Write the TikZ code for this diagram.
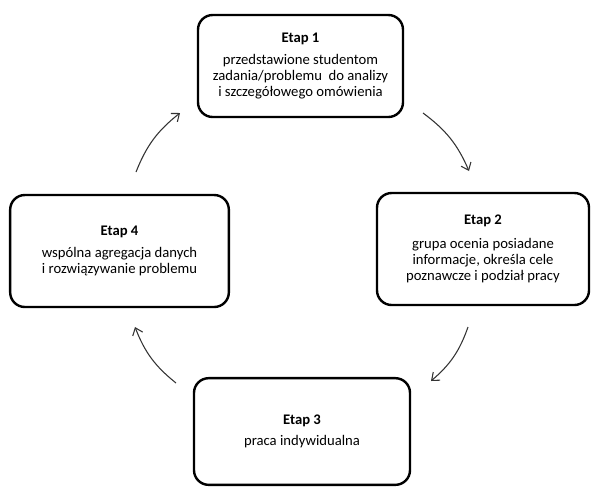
\documentclass[tikz,border=0pt]{standalone}
\usepackage{fontspec}
\setmainfont{Carlito}
\usetikzlibrary{arrows.meta}
\tikzstyle{etap} = [draw, rectangle, rounded corners=11pt, line width=1.8pt, align=center, inner sep=0pt, font=\fontsize{11}{12}\selectfont]
\tikzstyle{line} = [draw, black!80, line width=0.8pt, -{Straight Barb[length=5pt,width=8pt]}]

\begin{document}
\begin{tikzpicture}[x=0.75pt, y=-0.75pt]
	\useasboundingbox (0,0) rectangle (591,487);
	\node [etap, minimum width=153.75pt, minimum height=76.5pt] (etap1) at (300.5,66) {\textbf{Etap 1}\\[5pt] przedstawione studentom\\ zadania/problemu\ \ do analizy\\ i szczegółowego omówienia};
	\node [etap, minimum width=159pt, minimum height=84pt] (etap2) at (483,249) {\textbf{Etap 2}\\[6pt] grupa ocenia posiadane\\ informacje, określa cele\\ poznawcze i podział pracy};
	\node [etap, minimum width=162pt, minimum height=80pt] (etap3) at (302,431.5) {\textbf{Etap 3}\\[4pt] praca indywidualna};
	\node [etap, minimum width=164pt, minimum height=84pt] (etap4) at (119.5,251) {\textbf{Etap 4}\\[5pt] wspólna agregacja danych\\ i rozwiązywanie problemu};
	
	% punkty koncowe strzalek
	\coordinate (s12) at (423,113);
	\coordinate (e12) at (469,171);
	\coordinate (s23) at (468,327);
	\coordinate (e23) at (431,381);
	\coordinate (s34) at (176,383);
	\coordinate (e34) at (135,327);
	\coordinate (s41) at (136,172);
	\coordinate (e41) at (180,113);
	
	\path [line] (s12) to [bend left=15] (e12);
	\path [line] (s23) to [bend left=15] (e23);
	\path [line] (s34) to [bend left=15] (e34);
	\path [line] (s41) to [bend left=15] (e41);
\end{tikzpicture}
\end{document}
